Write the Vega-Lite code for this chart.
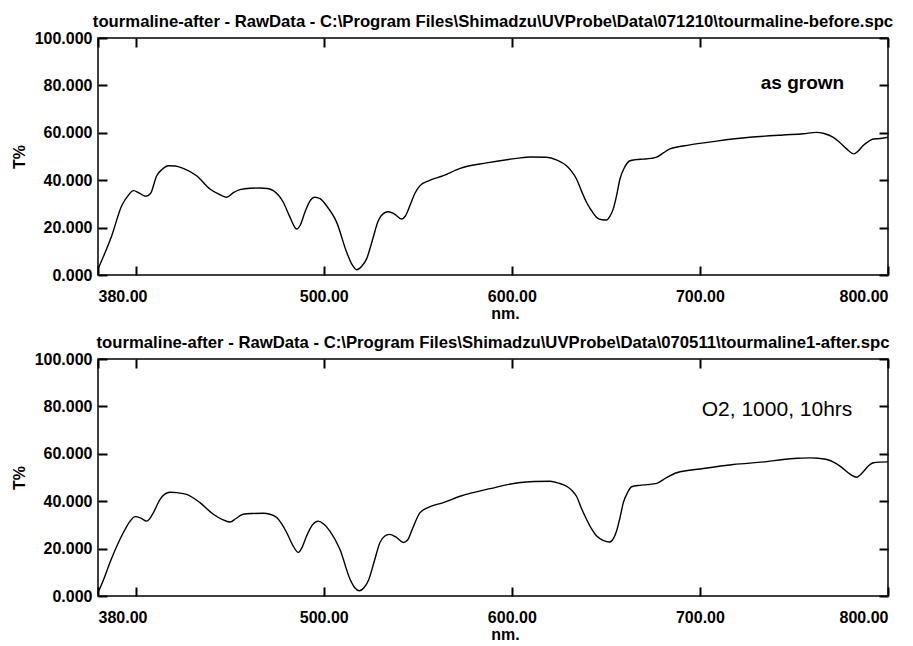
{
  "$schema": "https://vega.github.io/schema/vega-lite/v6.json",
  "background": "white",
  "padding": {"left": 10, "top": 13, "right": 0, "bottom": 0},
  "spacing": 84,
  "bounds": "flush",
  "config": {
    "view": {"stroke": "black", "strokeWidth": 1.5},
    "font": "Liberation Sans, Arial",
    "axis": {
      "grid": false, "domain": false, "tickColor": "black", "tickWidth": 2,
      "labelFont": "Liberation Sans, Arial", "labelFontSize": 16, "labelFontWeight": "bold", "labelColor": "black",
      "titleFont": "Liberation Sans, Arial", "titleFontSize": 16, "titleFontWeight": "bold", "titleColor": "black"
    },
    "title": {"font": "Liberation Sans, Arial", "fontSize": 16.7, "fontWeight": "bold", "color": "black", "anchor": "middle", "offset": -1}
  },
  "datasets": {
    "before": [
      {"nm":380,"T":2.5},{"nm":383,"T":8},{"nm":387.3,"T":16.6},{"nm":392.6,"T":29.2},{"nm":396,"T":33.5},{"nm":398.8,"T":35.6},{"nm":402,"T":34.5},{"nm":405.5,"T":33.2},{"nm":408,"T":34.5},{"nm":411.2,"T":41.9},{"nm":414,"T":44.5},{"nm":417.3,"T":46.1},{"nm":421,"T":46},{"nm":425.3,"T":45.0},{"nm":432.4,"T":41.9},{"nm":439.5,"T":36.3},{"nm":444,"T":34.2},{"nm":448.4,"T":32.8},{"nm":452,"T":34.8},{"nm":455.5,"T":36.0},{"nm":461,"T":36.6},{"nm":466.1,"T":36.7},{"nm":470,"T":36.5},{"nm":473.2,"T":35.6},{"nm":478.5,"T":30.7},{"nm":482,"T":24.5},{"nm":485.6,"T":19.4},{"nm":487.5,"T":21},{"nm":490,"T":26.5},{"nm":492.5,"T":31},{"nm":495.3,"T":32.8},{"nm":498,"T":32.2},{"nm":501.5,"T":29.2},{"nm":506.9,"T":22.2},{"nm":512.2,"T":9.6},{"nm":515,"T":4.5},{"nm":517.5,"T":2.2},{"nm":520,"T":3.5},{"nm":522.8,"T":6.8},{"nm":526,"T":15},{"nm":529,"T":22.9},{"nm":531.5,"T":25.8},{"nm":534.3,"T":26.7},{"nm":537.5,"T":25.8},{"nm":541.4,"T":23.6},{"nm":543.5,"T":25},{"nm":545.8,"T":29.2},{"nm":548.5,"T":34.5},{"nm":551.2,"T":37.7},{"nm":556,"T":39.8},{"nm":563.6,"T":41.9},{"nm":572.5,"T":45},{"nm":586.6,"T":47.3},{"nm":602.6,"T":49.2},{"nm":610,"T":49.8},{"nm":618.5,"T":49.7},{"nm":624,"T":48.5},{"nm":629.1,"T":46.1},{"nm":632,"T":43.5},{"nm":634.4,"T":40.5},{"nm":637,"T":35.5},{"nm":639.7,"T":30.7},{"nm":642.5,"T":27},{"nm":645.1,"T":24.3},{"nm":648,"T":23.3},{"nm":650.4,"T":23.2},{"nm":652.2,"T":24.8},{"nm":653.9,"T":27.8},{"nm":655.7,"T":33.5},{"nm":657.5,"T":40.5},{"nm":660,"T":45.5},{"nm":662.8,"T":48.2},{"nm":666,"T":48.7},{"nm":669.9,"T":48.9},{"nm":674,"T":49.2},{"nm":677,"T":49.7},{"nm":680.5,"T":51.5},{"nm":684.1,"T":53.2},{"nm":694.7,"T":54.9},{"nm":708.9,"T":56.5},{"nm":726.6,"T":58.1},{"nm":744.3,"T":59.1},{"nm":755,"T":59.6},{"nm":762,"T":60.2},{"nm":766,"T":59.7},{"nm":770.9,"T":58.1},{"nm":774.5,"T":55.8},{"nm":778,"T":53.2},{"nm":781.9,"T":51.1},{"nm":784,"T":52.2},{"nm":786.8,"T":54.6},{"nm":789.5,"T":56.3},{"nm":792.2,"T":57.4},{"nm":796,"T":57.6},{"nm":800,"T":58.1}
    ],
    "after": [
      {"nm":380,"T":1.5},{"nm":383,"T":7},{"nm":386.4,"T":14.2},{"nm":393.5,"T":26.8},{"nm":397,"T":31.5},{"nm":399.7,"T":33.5},{"nm":402.5,"T":33},{"nm":405.9,"T":31.6},{"nm":409,"T":34.5},{"nm":413,"T":40.8},{"nm":415.5,"T":43},{"nm":418.3,"T":43.8},{"nm":422,"T":43.6},{"nm":427.1,"T":42.9},{"nm":434.2,"T":39.4},{"nm":441.3,"T":34.5},{"nm":446,"T":32.3},{"nm":450.2,"T":31.2},{"nm":453.5,"T":32.8},{"nm":457.2,"T":34.5},{"nm":462,"T":34.8},{"nm":467.9,"T":34.9},{"nm":471.5,"T":34.5},{"nm":475,"T":33.1},{"nm":480.3,"T":26.8},{"nm":483.5,"T":21.5},{"nm":486.5,"T":18.4},{"nm":488.5,"T":20.5},{"nm":490.9,"T":25.3},{"nm":494,"T":30},{"nm":497.1,"T":31.6},{"nm":500,"T":30.4},{"nm":503.3,"T":27.4},{"nm":508.6,"T":19.7},{"nm":514,"T":7.1},{"nm":516.5,"T":3.5},{"nm":518.9,"T":2.2},{"nm":521.5,"T":3.6},{"nm":523.7,"T":6.4},{"nm":527,"T":15},{"nm":529.9,"T":22.6},{"nm":532.5,"T":25.3},{"nm":534.9,"T":26},{"nm":538.5,"T":24.8},{"nm":542.3,"T":22.6},{"nm":544.5,"T":23.5},{"nm":547,"T":28},{"nm":551.2,"T":35.2},{"nm":556,"T":37.5},{"nm":563.6,"T":39.4},{"nm":572.5,"T":42.1},{"nm":588.5,"T":45.3},{"nm":603.5,"T":47.8},{"nm":612,"T":48.3},{"nm":620.3,"T":48.4},{"nm":625,"T":47.6},{"nm":629.1,"T":46.3},{"nm":632,"T":44.5},{"nm":634.4,"T":42.1},{"nm":637,"T":37},{"nm":639.7,"T":32.4},{"nm":642.5,"T":28.2},{"nm":645.1,"T":25.3},{"nm":648.5,"T":23.5},{"nm":652.2,"T":22.8},{"nm":654,"T":24.2},{"nm":655.7,"T":27.4},{"nm":657.5,"T":33},{"nm":659.3,"T":39.4},{"nm":661.5,"T":43.6},{"nm":663.7,"T":46.1},{"nm":668,"T":46.7},{"nm":672,"T":47},{"nm":677,"T":47.5},{"nm":682,"T":49.8},{"nm":687.6,"T":52},{"nm":701.9,"T":53.8},{"nm":717.8,"T":55.5},{"nm":735.5,"T":56.7},{"nm":744.3,"T":57.6},{"nm":752,"T":58.1},{"nm":758.7,"T":58.3},{"nm":763,"T":58.1},{"nm":767.5,"T":57.6},{"nm":771,"T":56.5},{"nm":774.7,"T":54.7},{"nm":780,"T":51.3},{"nm":783.5,"T":50.1},{"nm":785.5,"T":51.3},{"nm":787.9,"T":53.4},{"nm":790,"T":55.2},{"nm":792.3,"T":56.2},{"nm":796,"T":56.5},{"nm":800,"T":56.6}
    ],
    "noteBefore": [{"nm":754.5,"T":81,"label":"as grown"}],
    "noteAfter": [{"nm":741,"T":78.6,"label":"O2, 1000, 10hrs"}]
  },
  "vconcat": [
    {
      "title": "tourmaline-after - RawData - C:\\Program Files\\Shimadzu\\UVProbe\\Data\\071210\\tourmaline-before.spc",
      "width": 790, "height": 237,
      "resolve": {"axis": {"x": "independent", "y": "independent"}},
      "layer": [
        {
          "data": {"name": "before"},
          "mark": {"type": "line", "color": "black", "strokeWidth": 1.4, "interpolate": "monotone"},
          "encoding": {
            "x": {"field": "nm", "type": "quantitative", "scale": {"domain": [380, 800], "nice": false, "zero": false},
                  "axis": {"orient": "bottom", "tickSize": 9, "offset": -9, "values": [380, 400, 500, 600, 700, 800], "labelExpr": "datum.value == 400 ? '' : format(datum.value, '.2f')", "labelOverlap": false, "labelPadding": 13, "title": "nm.", "titlePadding": 1, "titleX": 407}},
            "y": {"field": "T", "type": "quantitative", "scale": {"domain": [0, 100], "nice": false},
                  "axis": {"orient": "left", "tickSize": 9, "offset": -9, "values": [0, 20, 40, 60, 80, 100], "format": ".3f", "labelPadding": 6, "title": "T%", "titlePadding": 7}}
          }
        },
        {
          "data": {"name": "noteBefore"},
          "mark": {"type": "text", "fontSize": 19, "fontWeight": "bold", "color": "black", "align": "center", "baseline": "middle"},
          "encoding": {
            "x": {"field": "nm", "type": "quantitative", "scale": {"domain": [380, 800], "nice": false, "zero": false},
                  "axis": {"orient": "top", "tickSize": 9, "offset": -9, "values": [380, 400, 500, 600, 700, 800], "labels": false, "title": null}},
            "y": {"field": "T", "type": "quantitative", "scale": {"domain": [0, 100], "nice": false},
                  "axis": {"orient": "right", "tickSize": 9, "offset": -9, "values": [0, 20, 40, 60, 80, 100], "labels": false, "title": null}},
            "text": {"field": "label"}
          }
        }
      ]
    },
    {
      "title": "tourmaline-after - RawData - C:\\Program Files\\Shimadzu\\UVProbe\\Data\\070511\\tourmaline1-after.spc",
      "width": 790, "height": 237,
      "resolve": {"axis": {"x": "independent", "y": "independent"}},
      "layer": [
        {
          "data": {"name": "after"},
          "mark": {"type": "line", "color": "black", "strokeWidth": 1.4, "interpolate": "monotone"},
          "encoding": {
            "x": {"field": "nm", "type": "quantitative", "scale": {"domain": [380, 800], "nice": false, "zero": false},
                  "axis": {"orient": "bottom", "tickSize": 9, "offset": -9, "values": [380, 400, 500, 600, 700, 800], "labelExpr": "datum.value == 400 ? '' : format(datum.value, '.2f')", "labelOverlap": false, "labelPadding": 13, "title": "nm.", "titlePadding": 1, "titleX": 407}},
            "y": {"field": "T", "type": "quantitative", "scale": {"domain": [0, 100], "nice": false},
                  "axis": {"orient": "left", "tickSize": 9, "offset": -9, "values": [0, 20, 40, 60, 80, 100], "format": ".3f", "labelPadding": 6, "title": "T%", "titlePadding": 7}}
          }
        },
        {
          "data": {"name": "noteAfter"},
          "mark": {"type": "text", "fontSize": 21, "color": "black", "align": "center", "baseline": "middle"},
          "encoding": {
            "x": {"field": "nm", "type": "quantitative", "scale": {"domain": [380, 800], "nice": false, "zero": false},
                  "axis": {"orient": "top", "tickSize": 9, "offset": -9, "values": [380, 400, 500, 600, 700, 800], "labels": false, "title": null}},
            "y": {"field": "T", "type": "quantitative", "scale": {"domain": [0, 100], "nice": false},
                  "axis": {"orient": "right", "tickSize": 9, "offset": -9, "values": [0, 20, 40, 60, 80, 100], "labels": false, "title": null}},
            "text": {"field": "label"}
          }
        }
      ]
    }
  ]
}
